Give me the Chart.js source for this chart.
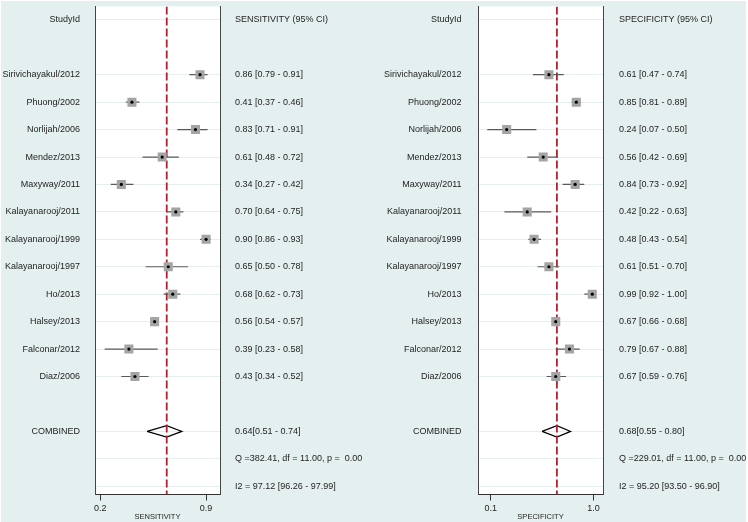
<!DOCTYPE html>
<html>
<head>
<meta charset="utf-8">
<script src="https://cdn.jsdelivr.net/npm/chart.js@4.4.1/dist/chart.umd.min.js"></script>
<style>
  html, body { margin: 0; padding: 0; background: #fff; }
  #wrap { position: absolute; left: 1px; top: 1px; width: 745px; height: 521px; background: #e4eff0; }
  canvas { position: absolute; top: 0; }
  #sens { left: 0; }
  #spec { left: 374px; }
</style>
</head>
<body>
<div id="wrap"></div>
<canvas id="sens" width="374" height="522"></canvas>
<canvas id="spec" width="374" height="522"></canvas>
<script>
// 研究ごとの値
const studies = [
  'Sirivichayakul/2012', 'Phuong/2002', 'Norlijah/2006', 'Mendez/2013',
  'Maxyway/2011', 'Kalayanarooj/2011', 'Kalayanarooj/1999', 'Kalayanarooj/1997',
  'Ho/2013', 'Halsey/2013', 'Falconar/2012', 'Diaz/2006',
];

const sensEst = [0.86, 0.41, 0.83, 0.61, 0.34, 0.70, 0.90, 0.65, 0.68, 0.56, 0.39, 0.43];
const sensLo  = [0.79, 0.37, 0.71, 0.48, 0.27, 0.64, 0.86, 0.50, 0.62, 0.54, 0.23, 0.34];
const sensHi  = [0.91, 0.46, 0.91, 0.72, 0.42, 0.75, 0.93, 0.78, 0.73, 0.57, 0.58, 0.52];

const specEst = [0.61, 0.85, 0.24, 0.56, 0.84, 0.42, 0.48, 0.61, 0.99, 0.67, 0.79, 0.67];
const specLo  = [0.47, 0.81, 0.07, 0.42, 0.73, 0.22, 0.43, 0.51, 0.92, 0.66, 0.67, 0.59];
const specHi  = [0.74, 0.89, 0.50, 0.69, 0.92, 0.63, 0.54, 0.70, 1.00, 0.68, 0.88, 0.76];

// 統合値 [推定, 下限, 上限]
const sensPooled = [0.64, 0.51, 0.74];
const specPooled = [0.68, 0.55, 0.80];

const sensStats = ['Q =382.41, df = 11.00, p =  0.00', 'I2 = 97.12 [96.26 - 97.99]'];
const specStats = ['Q =229.01, df = 11.00, p =  0.00', 'I2 = 95.20 [93.50 - 96.90]'];

const sensTicks = [0.2, 0.9];
const specTicks = [0.1, 1.0];

// 行の位置
const HEADER_ROW = -2;
const COMBINED_ROW = 13;
const Q_ROW = 14;
const I2_ROW = 15;
const Y_MIN = -2.49;
const Y_MAX = 15.3;

const TEXT = '#1e1e1e';
const fmt = (v) => v.toFixed(2);

Chart.defaults.font.family = '"Liberation Sans", Arial, sans-serif';
Chart.defaults.font.size = 9;
Chart.defaults.color = TEXT;

/** プロット領域だけ白く塗る */
const plotBg = {
  id: 'plotBg',
  beforeDraw(chart) {
    const { ctx, chartArea: a } = chart;
    ctx.save();
    ctx.fillStyle = '#fff';
    ctx.fillRect(a.left, a.top, a.right - a.left, a.bottom - a.top);
    ctx.restore();
  },
};

const makePanel = (canvasId, { est, lo, hi, pooled, stats, header, title, xMin, xMax, xTicks, area, pad }) => {
  const leftLabels = new Map([[HEADER_ROW, 'StudyId'], [COMBINED_ROW, 'COMBINED']]);
  studies.forEach((s, i) => leftLabels.set(i, s));

  const rightLabels = new Map([
    [HEADER_ROW, header],
    [COMBINED_ROW, `${fmt(pooled[0])}[${fmt(pooled[1])} - ${fmt(pooled[2])}]`],
    [Q_ROW, stats[0]],
    [I2_ROW, stats[1]],
  ]);
  est.forEach((v, i) => rightLabels.set(i, `${fmt(v)} [${fmt(lo[i])} - ${fmt(hi[i])}]`));

  const ciSets = est.map((_, i) => ({
    type: 'line',
    data: [{ x: lo[i], y: i }, { x: hi[i], y: i }],
    borderColor: '#5a5a5a',
    borderWidth: 1.2,
    pointRadius: 0,
    order: 2,
  }));

  const datasets = [
    {
      type: 'scatter',
      data: est.map((v, i) => ({ x: v, y: i })),
      pointStyle: 'circle',
      pointRadius: 1.6,
      backgroundColor: '#000',
      borderWidth: 0,
      order: 0,
    },
    {
      type: 'scatter',
      data: est.map((v, i) => ({ x: v, y: i })),
      pointStyle: 'rect',
      pointRadius: 6.4,
      backgroundColor: '#a4a4a4',
      borderWidth: 0,
      order: 1,
    },
    ...ciSets,
    {
      type: 'line',
      data: [{ x: pooled[0], y: Y_MIN }, { x: pooled[0], y: Y_MAX }],
      borderColor: '#b3202e',
      borderWidth: 1.8,
      borderDash: [8, 3],
      pointRadius: 0,
      order: 3,
    },
    {
      // 統合推定の菱形
      type: 'line',
      data: [
        { x: pooled[1], y: COMBINED_ROW },
        { x: pooled[0], y: COMBINED_ROW - 0.21 },
        { x: pooled[2], y: COMBINED_ROW },
        { x: pooled[0], y: COMBINED_ROW + 0.21 },
        { x: pooled[1], y: COMBINED_ROW },
      ],
      borderColor: '#000',
      borderWidth: 1.2,
      pointRadius: 0,
      tension: 0,
      order: 4,
    },
  ];

  const yCommon = {
    type: 'linear',
    min: Y_MIN,
    max: Y_MAX,
    reverse: true,
    border: { color: '#454545', width: 1 },
  };

  // ラベル分の上下余白は使わない（プロット枠は上端から）
  const fixWidth = (w) => (s) => {
    s.width = w;
    s.paddingTop = 0;
    s.paddingBottom = 0;
  };

  new Chart(document.getElementById(canvasId), {
    type: 'scatter',
    data: { datasets },
    options: {
      responsive: false,
      animation: false,
      events: [],
      layout: { padding: 0 },
      plugins: { legend: { display: false }, tooltip: { enabled: false } },
      scales: {
        x: {
          type: 'linear',
          min: xMin,
          max: xMax,
          afterBuildTicks: (s) => { s.ticks = xTicks.map((v) => ({ value: v })); },
          ticks: { callback: (v) => v.toFixed(1), padding: 3, maxRotation: 0, autoSkip: false },
          grid: { drawOnChartArea: false, drawTicks: true, tickLength: 6, color: '#333' },
          border: { color: '#333' },
          title: { display: true, text: title, font: { size: 7.5 }, padding: { top: 0, bottom: 1 } },
          afterFit: (s) => { s.height = 27.5; },
        },
        y: {
          ...yCommon,
          position: 'left',
          afterBuildTicks: (s) => { s.ticks = [...leftLabels.keys()].map((v) => ({ value: v })); },
          ticks: { callback: (v) => leftLabels.get(v) ?? '', padding: pad[0], autoSkip: false },
          grid: { color: 'rgba(0,0,0,0)', drawTicks: false },
          afterFit: fixWidth(area[0]),
        },
        y2: {
          ...yCommon,
          position: 'right',
          afterBuildTicks: (s) => { s.ticks = [...rightLabels.keys()].map((v) => ({ value: v })); },
          ticks: { callback: (v) => rightLabels.get(v) ?? '', padding: pad[1], autoSkip: false },
          grid: { color: '#e6eef0', drawTicks: false },
          afterFit: fixWidth(374 - area[1]),
        },
      },
    },
    plugins: [plotBg],
  });
};

makePanel('sens', {
  est: sensEst, lo: sensLo, hi: sensHi, pooled: sensPooled, stats: sensStats,
  header: 'SENSITIVITY (95% CI)', title: 'SENSITIVITY',
  xMin: 0.166, xMax: 0.992, xTicks: sensTicks,
  area: [95, 220], pad: [15, 15],
});

makePanel('spec', {
  est: specEst, lo: specLo, hi: specHi, pooled: specPooled, stats: specStats,
  header: 'SPECIFICITY (95% CI)', title: 'SPECIFICITY',
  xMin: -0.0115, xMax: 1.084, xTicks: specTicks,
  area: [104, 229], pad: [16.5, 16],
});
</script>
</body>
</html>
